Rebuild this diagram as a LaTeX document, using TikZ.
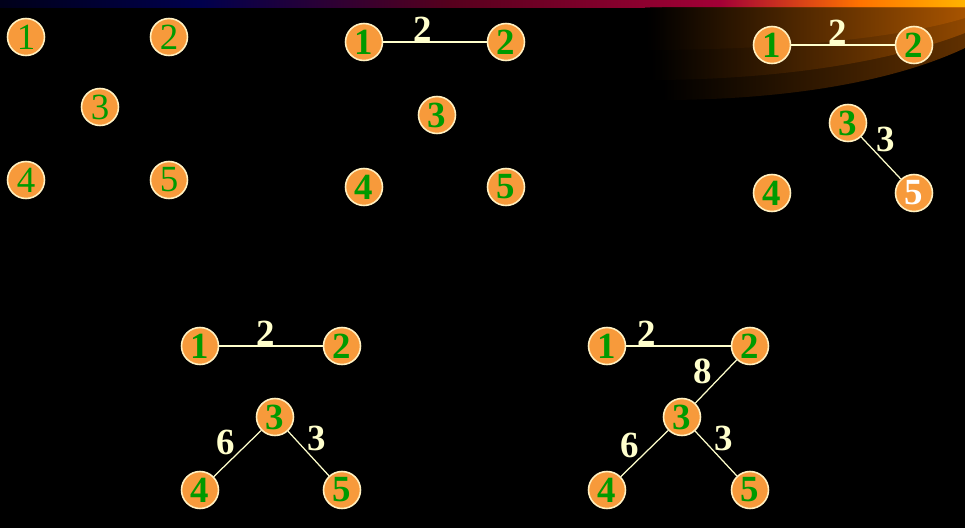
\documentclass[tikz,border=0pt]{standalone}
\usepackage{fontspec}
\setmainfont{Liberation Serif}
\usepackage{tikz}
\usetikzlibrary{positioning, backgrounds}
\definecolor{vfill}{HTML}{F79A3B}
\definecolor{vrim}{HTML}{FFF0C0}
\definecolor{vnum}{HTML}{009A00}
\definecolor{wcol}{HTML}{FFFFCC}
\definecolor{glow}{HTML}{C06000}

\begin{document}
\begin{tikzpicture}[
    x=0.02cm, y=-0.02cm,
    vtx/.style={circle, draw=vrim, line width=0.9pt, fill=vfill, minimum size=0.74cm, inner sep=0pt, text=vnum, font=\fontsize{21}{21}\selectfont\bfseries},
    vthin/.style={vtx, font=\fontsize{21}{21}\selectfont},
    vsel/.style={vtx, text=white},
    edge/.style={draw=wcol, line width=0.7pt},
    wt/.style={text=wcol, inner sep=1pt, font=\fontsize{21}{21}\selectfont\bfseries}
]
    % background and top bar
    \fill[black] (0,0) rectangle (965,528);
    \useasboundingbox (0,0) rectangle (965,528);
    \shade[left color=black!90!blue, right color=blue!30!black] (0,0) rectangle (200,7);
    \shade[left color=blue!30!black, right color=black!55!purple] (200,0) rectangle (450,7);
    \shade[left color=black!55!purple, right color=purple!85!black] (450,0) rectangle (720,7);
    \shade[left color=purple!85!black, right color=orange!90!red] (720,0) rectangle (860,7);
    \shade[left color=orange!90!red, right color=orange!60!yellow] (860,0) rectangle (965,7);
    % glow in the corner
    \shade[left color=black, right color=glow, fill opacity=0.5] (662,7) -- (965,7) -- (965,48) .. controls (880,88) and (760,100) .. (662,100) -- cycle;
    \shade[left color=black, right color=glow, fill opacity=0.5] (650,7) -- (965,7) -- (965,33) .. controls (880,66) and (760,80) .. (650,80) -- cycle;
    \shade[left color=black, right color=glow, fill opacity=0.5] (645,7) -- (965,7) -- (965,18) .. controls (900,38) and (780,50) .. (645,50) -- cycle;

    % graph a
    \node[vthin] (a1) at (26,37) {1};
    \node[vthin] (a2) at (169,37) {2};
    \node[vthin] (a3) at (100,107) {3};
    \node[vthin] (a4) at (26,180) {4};
    \node[vthin] (a5) at (169,180) {5};

    % graph b
    \node[vtx] (b1) at (364,42) {1};
    \node[vtx] (b2) at (506,42) {2};
    \node[vtx] (b3) at (437,115) {3};
    \node[vtx] (b4) at (364,187) {4};
    \node[vtx] (b5) at (506,187) {5};
    \draw[edge] (b1) -- node[wt, above, pos=0.38, inner sep=0pt] (lb12) {2} (b2);

    % graph c
    \node[vtx] (c1) at (772,45) {1};
    \node[vtx] (c2) at (914,45) {2};
    \node[vtx] (c3) at (848,123) {3};
    \node[vtx] (c4) at (772,193) {4};
    \node[vsel] (c5) at (914,193) {5};
    \draw[edge] (c1) -- node[wt, above, pos=0.45, inner sep=0pt] (lc12) {2} (c2);
    \draw[edge] (c3) -- node[wt, above right, pos=0.38, inner sep=0pt] (lc35) {3} (c5);

    % graph d
    \node[vtx] (d1) at (200,346) {1};
    \node[vtx] (d2) at (342,346) {2};
    \node[vtx] (d3) at (275,417) {3};
    \node[vtx] (d4) at (200,490) {4};
    \node[vtx] (d5) at (342,490) {5};
    \draw[edge] (d1) -- node[wt, above, pos=0.45, inner sep=0pt] (ld12) {2} (d2);
    \draw[edge] (d3) -- node[wt, above left, pos=0.55, inner sep=0pt] (ld34) {6} (d4);
    \draw[edge] (d3) -- node[wt, above right, pos=0.45, inner sep=0pt] (ld35) {3} (d5);

    % graph e
    \node[vtx] (e1) at (607,346) {1};
    \node[vtx] (e2) at (750,346) {2};
    \node[vtx] (e3) at (682,417) {3};
    \node[vtx] (e4) at (607,490) {4};
    \node[vtx] (e5) at (750,490) {5};
    \draw[edge] (e1) -- node[wt, above, pos=0.2, inner sep=0pt] (le12) {2} (e2);
    \draw[edge] (e2) -- node[wt, above left, pos=0.58, inner sep=0pt] (le23) {8} (e3);
    \draw[edge] (e3) -- node[wt, above left, pos=0.6, inner sep=0pt] (le34) {6} (e4);
    \draw[edge] (e3) -- node[wt, above right, pos=0.45, inner sep=0pt] (le35) {3} (e5);
\end{tikzpicture}
\end{document}
